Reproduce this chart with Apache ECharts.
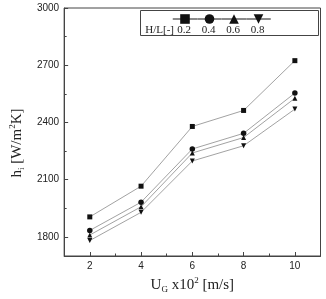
<!DOCTYPE html>
<html>
<head>
<meta charset="utf-8">
<script src="https://cdn.jsdelivr.net/npm/echarts@6/dist/echarts.min.js"></script>
<style>
  html, body { margin: 0; padding: 0; background: #fff; }
  #chart { width: 326px; height: 299px; }
</style>
</head>
<body>
<div id="chart"></div>
<script>
// gas velocity U_G x10^2 [m/s]
const velocities = [2, 4, 6, 8, 10];
const ratios = ['0.2', '0.4', '0.6', '0.8'];
const hL02 = [1905, 2066, 2379, 2463, 2724];
const hL04 = [1834, 1982, 2261, 2343, 2554];
const hL06 = [1810, 1958, 2240, 2321, 2527];
const hL08 = [1781, 1929, 2198, 2278, 2470];
const yTicks = [1800, 2100, 2400, 2700, 3000];
const yMinorTicks = [1950, 2250, 2550, 2850];
const xTicks = [2, 4, 6, 8, 10];
const xMinorTicks = [3, 5, 7, 9];

const seriesValues = [hL02, hL04, hL06, hL08];
const symbols = ['rect', 'circle', 'triangle', 'path://M0,0L10,0L5,9Z'];

const axisColor = '#444';
const labelFont = { fontFamily: 'Liberation Sans', fontSize: 10, color: '#222' };
const serif = 'Liberation Serif';

const chart = echarts.init(document.getElementById('chart'), null, { renderer: 'canvas' });

const legendX = [184, 208.5, 233, 257.5];

const richTitle = {
  a: { fontFamily: serif, fontSize: 15, color: '#222', lineHeight: 18 },
  sub: { fontFamily: serif, fontSize: 9, color: '#222', lineHeight: 9, verticalAlign: 'bottom' },
  sup: { fontFamily: serif, fontSize: 9, color: '#222', lineHeight: 9, verticalAlign: 'top' }
};

chart.setOption({
  animation: false,
  grid: { left: 54.5, right: 5.5, top: 8, bottom: 39, show: true, borderColor: axisColor, borderWidth: 1 },
  legend: {
    left: legendX[0] - 12.25,
    top: 13,
    padding: 0,
    itemWidth: 24.5,
    itemHeight: 12,
    itemGap: -2,
    formatter: () => '',
    selectedMode: false,
    data: ratios
  },
  graphic: [
    {
      type: 'rect',
      shape: { x: 140.5, y: 10.5, width: 178, height: 25 },
      style: { fill: 'none', stroke: axisColor, lineWidth: 1 },
      z: 1
    },
    {
      type: 'text',
      x: 174, y: 30.5,
      style: { text: 'H/L[-]', fontFamily: serif, fontSize: 11, fill: '#222', align: 'right', verticalAlign: 'middle' }
    },
    ...ratios.map((r, i) => ({
      type: 'text',
      x: legendX[i], y: 30.5,
      style: { text: r, fontFamily: serif, fontSize: 11, fill: '#222', align: 'center', verticalAlign: 'middle' }
    }))
  ],
  xAxis: [
    {
      type: 'value',
      min: 1,
      max: 11,
      name: '{a|U}{sub|G}{a| x10}{sup|2}{a| [m/s]}',
      nameLocation: 'middle',
      nameGap: 20,
      nameTextStyle: { rich: richTitle },
      axisLine: { show: true, lineStyle: { color: axisColor, width: 1 } },
      axisTick: { show: true, inside: true, length: 4, customValues: xTicks, lineStyle: { color: axisColor } },
      axisLabel: { ...labelFont, margin: 5, customValues: xTicks },
      splitLine: { show: false }
    },
    {
      type: 'value',
      min: 1,
      max: 11,
      position: 'bottom',
      axisLine: { show: false },
      axisTick: { show: true, inside: true, length: 2.5, customValues: xMinorTicks, lineStyle: { color: axisColor } },
      axisLabel: { show: false, customValues: xMinorTicks },
      splitLine: { show: false }
    }
  ],
  yAxis: [
    {
      type: 'value',
      min: 1700,
      max: 3000,
      name: '{a|h}{sub|i}{a| [W/m}{sup|2}{a|K]}',
      nameLocation: 'middle',
      nameGap: 32,
      nameTextStyle: { padding: [0, 22, 0, 0], rich: richTitle },
      axisLine: { show: true, lineStyle: { color: axisColor, width: 1 } },
      axisTick: { show: true, inside: true, length: 4, customValues: yTicks, lineStyle: { color: axisColor } },
      axisLabel: { ...labelFont, margin: 5, customValues: yTicks, formatter: (v) => String(v) },
      splitLine: { show: false }
    },
    {
      type: 'value',
      min: 1700,
      max: 3000,
      position: 'left',
      axisLine: { show: false },
      axisTick: { show: true, inside: true, length: 2.5, customValues: yMinorTicks, lineStyle: { color: axisColor } },
      axisLabel: { show: false, customValues: yMinorTicks },
      splitLine: { show: false }
    }
  ],
  series: seriesValues.map((vals, i) => ({
    name: ratios[i],
    type: 'line',
    data: velocities.map((v, j) => [v, vals[j]]),
    symbol: symbols[i],
    symbolSize: i === 1 ? 5.5 : 5,
    showSymbol: true,
    itemStyle: { color: '#111' },
    lineStyle: { color: '#8a8a8a', width: 0.8 },
    z: 3
  }))
});
</script>
</body>
</html>
